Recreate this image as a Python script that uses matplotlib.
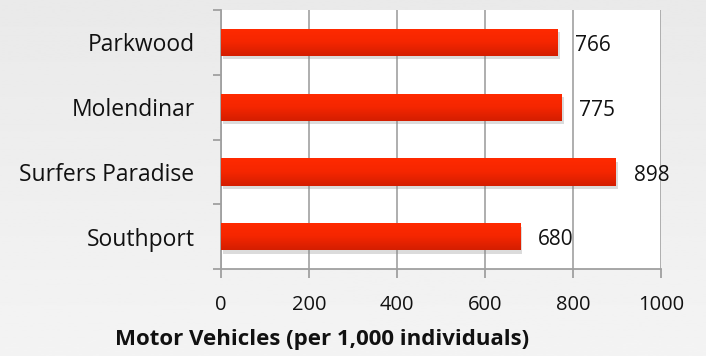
import numpy as np
import matplotlib
matplotlib.use("Agg")
from matplotlib import pyplot as plt
from matplotlib import patheffects
from matplotlib.ticker import FixedLocator

suburbs = ["Southport", "Surfers Paradise", "Molendinar", "Parkwood"]
vehicles = [680, 898, 775, 766]
xticks = [0, 200, 400, 600, 800, 1000]

plt.rcParams['font.family'] = ['Open Sans', 'DejaVu Sans']

fig = plt.figure(figsize=(7.06, 3.56), dpi=100)

# soft grey backdrop, slightly lighter towards the bottom
bg = fig.add_axes([0, 0, 1, 1], zorder=-10)
bg.imshow(np.linspace(0.915, 0.955, 256).reshape(-1, 1), cmap="gray",
          vmin=0, vmax=1, aspect="auto", extent=[0, 1, 0, 1])
bg.axis("off")

ax = fig.add_axes([0.313, 0.244, 0.623, 0.728])
ax.set_facecolor("white")

pos = np.arange(len(suburbs))
bars = ax.barh(pos, vehicles, height=0.42, color="#f82400", zorder=3)

# red vertical gradient on each bar, plus a drop shadow
grad = np.linspace(0, 1, 64).reshape(-1, 1)
cmap = matplotlib.colors.LinearSegmentedColormap.from_list(
    "bar", ["#ff2a00", "#f52600", "#d41e00"])
for b in bars:
    b.set_path_effects([patheffects.SimplePatchShadow(offset=(1.5, -2.5), shadow_rgbFace="#888888", alpha=0.3),
                        patheffects.Normal()])
    x0, y0, w, h = b.get_x(), b.get_y(), b.get_width(), b.get_height()
    im = ax.imshow(grad, cmap=cmap, aspect="auto", zorder=4,
                   extent=[x0, x0 + w, y0, y0 + h], origin="upper")
    im.set_clip_path(b)

for p, v in zip(pos, vehicles):
    ax.text(v + 40, p - 0.05, str(v), va="center", ha="left", fontsize=15, color="#111111", zorder=5)

ax.set_xlim(0, 1000)
ax.set_ylim(-0.5, len(suburbs) - 0.5)
ax.set_xticks(xticks)
ax.set_xticklabels([str(t) for t in xticks])
ax.set_yticks(pos)
ax.set_yticklabels(suburbs)
ax.yaxis.set_minor_locator(FixedLocator(np.arange(-0.5, len(suburbs), 1.0)))

ax.grid(axis="x", color="#a8a8a8", linewidth=1.3, zorder=1)
ax.set_axisbelow(True)
for s in ["top", "right"]:
    ax.spines[s].set_visible(False)
for s in ["left", "bottom"]:
    ax.spines[s].set_color("#a0a0a0")
    ax.spines[s].set_linewidth(1.3)

ax.tick_params(axis="y", which="major", length=0, pad=19, labelsize=16.5, labelcolor="#111111")
ax.tick_params(axis="y", which="minor", length=6, width=1.3, color="#a0a0a0")
ax.tick_params(axis="x", which="major", length=6.5, width=1.3, color="#a0a0a0",
               pad=12, labelsize=14.5, labelcolor="#111111")

fig.text(322 / 706, 1 - 340 / 356, "Motor Vehicles (per 1,000 individuals)",
         ha="center", va="center", fontsize=16, fontweight="bold", color="#111111")

fig.savefig("out.png", dpi=100)
